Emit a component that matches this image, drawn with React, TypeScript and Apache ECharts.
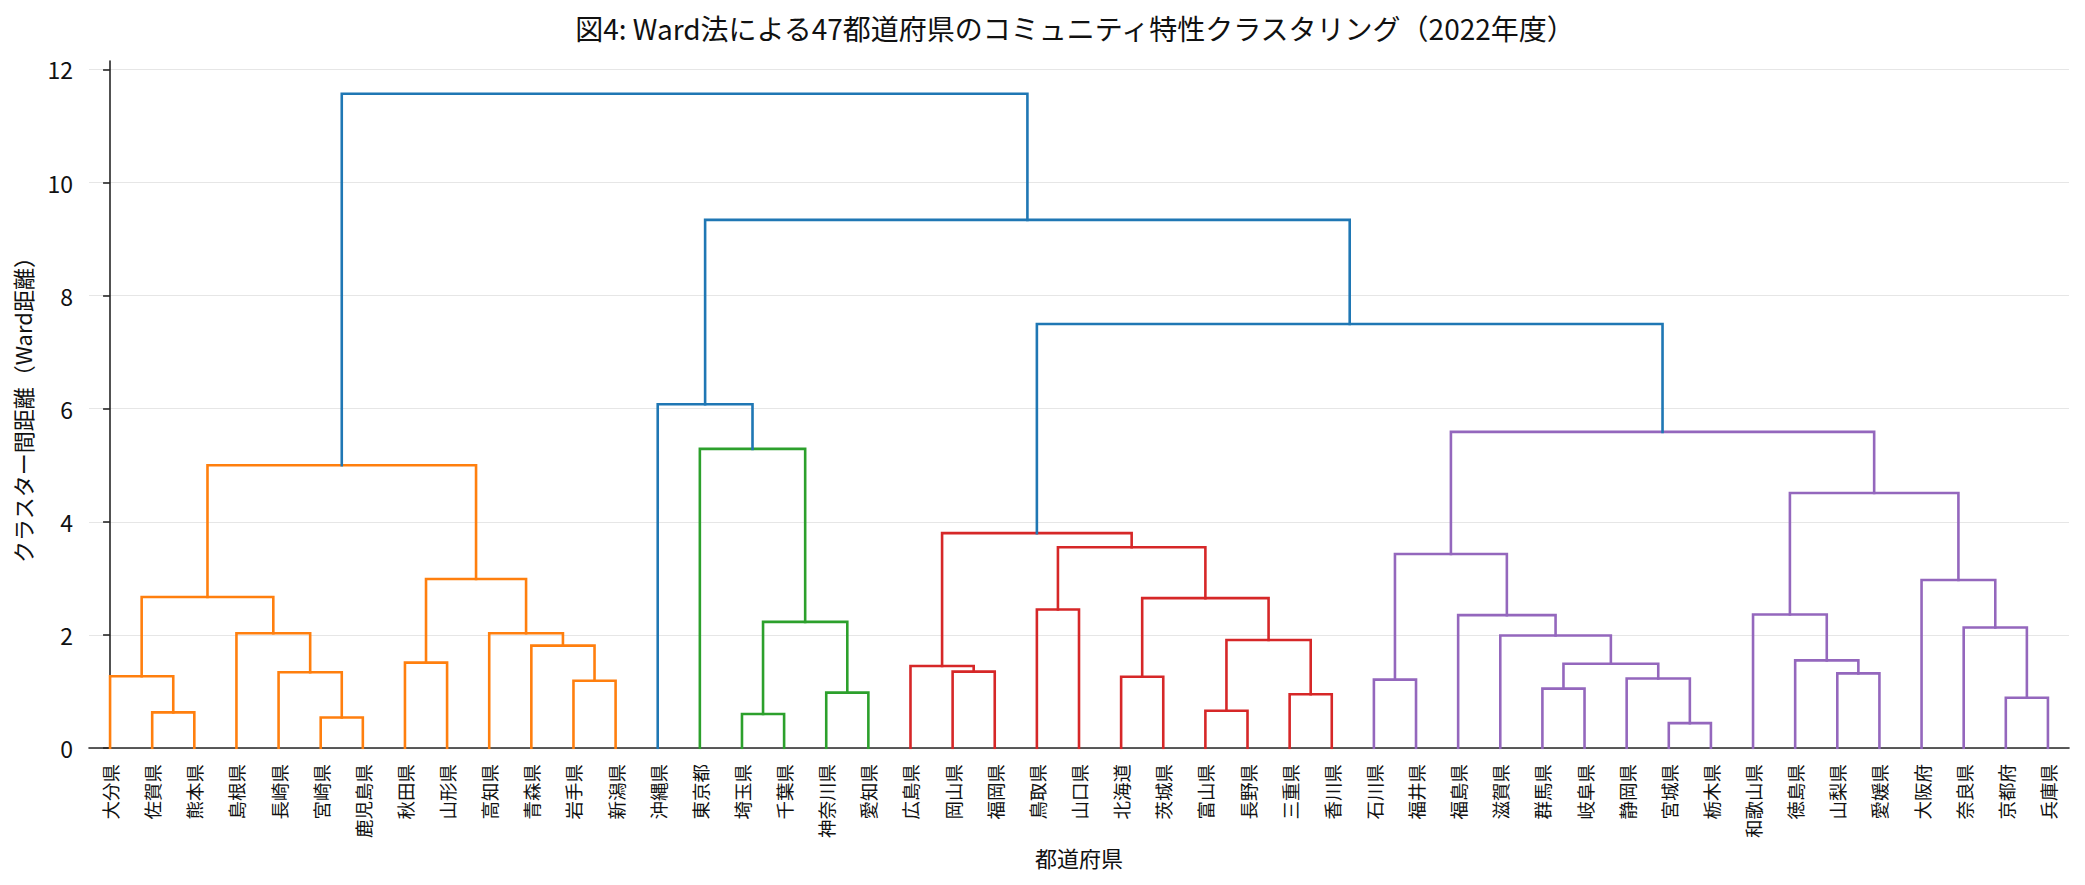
import { useEffect, useRef } from 'react'
import * as echarts from 'echarts'

const FONT = "'Noto Sans CJK JP', 'Noto Sans', sans-serif"

// leaf order as drawn on the x axis
const prefectures = [
  '大分県', '佐賀県', '熊本県', '島根県', '長崎県', '宮崎県', '鹿児島県', '秋田県', '山形県', '高知県',
  '青森県', '岩手県', '新潟県', '沖縄県', '東京都', '埼玉県', '千葉県', '神奈川県', '愛知県', '広島県',
  '岡山県', '福岡県', '鳥取県', '山口県', '北海道', '茨城県', '富山県', '長野県', '三重県', '香川県',
  '石川県', '福井県', '福島県', '滋賀県', '群馬県', '岐阜県', '静岡県', '宮城県', '栃木県', '和歌山県',
  '徳島県', '山梨県', '愛媛県', '大阪府', '奈良県', '京都府', '兵庫県',
]

// [left, right, height]; ids >= 47 point to earlier rows (47 = first row)
const linkage: [number, number, number][] = [
  [1, 2, 0.63], [0, 47, 1.27], [5, 6, 0.54], [4, 49, 1.34], [3, 50, 2.03],
  [48, 51, 2.67], [7, 8, 1.51], [11, 12, 1.19], [10, 54, 1.81], [9, 55, 2.03],
  [53, 56, 2.99], [52, 57, 5.0],
  [15, 16, 0.6], [17, 18, 0.98], [59, 60, 2.23], [14, 61, 5.29], [13, 62, 6.08],
  [20, 21, 1.35], [19, 64, 1.45], [22, 23, 2.45], [24, 25, 1.26], [26, 27, 0.66],
  [28, 29, 0.95], [68, 69, 1.91], [67, 70, 2.65], [66, 71, 3.55], [65, 72, 3.8],
  [30, 31, 1.21], [34, 35, 1.05], [37, 38, 0.44], [36, 76, 1.23], [75, 77, 1.49],
  [33, 78, 1.99], [32, 79, 2.35], [74, 80, 3.43], [41, 42, 1.32], [40, 82, 1.55],
  [39, 83, 2.36], [45, 46, 0.89], [44, 85, 2.13], [43, 86, 2.97], [84, 87, 4.51],
  [81, 88, 5.59],
  [73, 89, 7.5], [63, 90, 9.34], [58, 91, 11.57],
]

const yTicks = [0, 2, 4, 6, 8, 10, 12]
const clusterPalette = ['#ff7f0e', '#2ca02c', '#d62728', '#9467bd']
const aboveColor = '#1f77b4'
const colorThreshold = 5.8

function buildLinks() {
  const n = prefectures.length
  const xs = prefectures.map((_, i) => i)
  const hs = prefectures.map(() => 0)
  linkage.forEach(([a, b, h]) => {
    xs.push((xs[a] + xs[b]) / 2)
    hs.push(h)
  })

  const colors = linkage.map(() => aboveColor)
  let next = 0
  const paint = (id: number, color: string) => {
    if (id < n) return
    colors[id - n] = color
    paint(linkage[id - n][0], color)
    paint(linkage[id - n][1], color)
  }
  const walk = (id: number) => {
    if (id < n) return
    const [a, b, h] = linkage[id - n]
    if (h < colorThreshold) {
      paint(id, clusterPalette[next % clusterPalette.length])
      next += 1
      return
    }
    walk(a)
    walk(b)
  }
  walk(n + linkage.length - 1)

  return linkage.map(([a, b, h], k) => ({
    coords: [
      [xs[a], hs[a]],
      [xs[a], h],
      [xs[b], h],
      [xs[b], hs[b]],
    ],
    lineStyle: { color: colors[k] },
  }))
}

function App() {
  const chartRef = useRef<HTMLDivElement | null>(null)

  useEffect(() => {
    if (!chartRef.current) {
      return undefined
    }

    const chart = echarts.init(chartRef.current, undefined, { renderer: 'svg' })
    const option: echarts.EChartsOption = {
      animation: false,
      backgroundColor: '#ffffff',
      textStyle: { fontFamily: FONT },
      title: {
        text: '図4: Ward法による47都道府県のコミュニティ特性クラスタリング（2022年度）',
        left: 1070,
        top: 9,
        textAlign: 'center',
        textStyle: { fontSize: 28, fontWeight: 'normal', color: '#111', fontFamily: FONT },
      },
      grid: { left: 89, right: 16, top: 61, bottom: 137 },
      xAxis: [
        {
          type: 'category',
          data: prefectures,
          position: 'bottom',
          axisLine: { show: true, lineStyle: { color: '#262626', width: 1.6 } },
          axisTick: { show: false },
          axisLabel: {
            interval: 0,
            rotate: 90,
            margin: 16,
            fontSize: 18.5,
            color: '#111',
            fontFamily: FONT,
          },
          splitLine: { show: false },
          name: '都道府県',
          nameLocation: 'middle',
          nameGap: 97,
          nameTextStyle: { fontSize: 22, color: '#111', fontFamily: FONT },
        },
        {
          type: 'value',
          min: -0.5,
          max: prefectures.length - 0.5,
          show: false,
        },
      ],
      yAxis: {
        type: 'value',
        min: 0,
        max: 12.15,
        interval: 2,
        axisLine: { show: true, lineStyle: { color: '#262626', width: 1.6 } },
        axisTick: {
          show: true,
          length: 7,
          lineStyle: { color: '#262626', width: 1.6 },
          customValues: yTicks,
        },
        axisLabel: {
          fontSize: 23,
          color: '#111',
          margin: 16,
          fontFamily: FONT,
          customValues: yTicks,
        },
        splitLine: { show: true, lineStyle: { color: '#e6e6e6', width: 1.2 } },
        name: 'クラスター間距離（Ward距離）',
        nameLocation: 'middle',
        nameGap: 56,
        nameTextStyle: { fontSize: 22, color: '#111', fontFamily: FONT },
      },
      series: [
        {
          type: 'lines',
          coordinateSystem: 'cartesian2d',
          xAxisIndex: 1,
          yAxisIndex: 0,
          polyline: true,
          silent: true,
          lineStyle: { width: 2.6, opacity: 1, cap: 'square', join: 'miter' },
          data: buildLinks(),
        },
      ],
    }

    chart.setOption(option)

    return () => {
      chart.dispose()
    }
  }, [])

  return (
    <div
      ref={chartRef}
      style={{ position: 'fixed', left: 0, top: 0, width: 2085, height: 885, background: '#fff' }}
    />
  )
}

export default App
